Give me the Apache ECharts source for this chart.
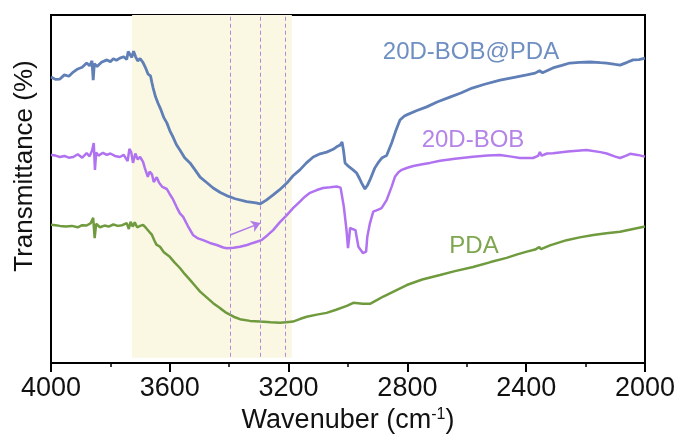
<!DOCTYPE html>
<html>
<head>
<meta charset="utf-8">
<title>FTIR spectra</title>
<script src="https://cdn.jsdelivr.net/npm/echarts@6/dist/echarts.min.js"></script>
<style>
  html, body { margin: 0; padding: 0; background: #fff; }
  #chart { width: 680px; height: 440px; }
</style>
</head>
<body>
<div id="chart"></div>
<script>
// FTIR transmittance (arbitrary offset units) vs wavenumber, cm-1

// 20D-BOB@PDA
const wnBobPda = [4000,3985,3970,3955,3940,3925,3910,3895,3880,3870,3862,3858,3854,3845,3830,3812,3800,3790,3780,3768,3755,3745,3740,3734,3728,3722,3715,3712,3708,3700,3690,3680,3673,3665,3660,3656,3648,3640,3630,3620,3610,3600,3589,3578,3566,3550,3532,3515,3498,3475,3454,3430,3409,3380,3341,3310,3296,3275,3252,3230,3206,3185,3162,3140,3117,3094,3072,3050,3035,3027,3020,3015,3010,2997,2983,2971,2960,2954,2943,2935,2926,2910,2899,2885,2870,2853,2840,2825,2810,2802,2770,2735,2700,2657,2620,2582,2540,2488,2440,2398,2370,2355,2345,2310,2280,2253,2220,2185,2150,2129,2100,2084,2060,2040,2020,2000];
const tBobPda = [82.2,81.5,81.6,82.8,82.4,83.6,84.5,85.0,86.2,85.4,86.8,81.3,86.0,85.2,86.4,87.1,86.6,87.4,87.0,87.6,88.0,87.2,89.5,89.9,87.8,89.6,88.0,88.5,86.8,87.5,86.3,84.5,83.0,82.5,80.5,79.0,76.5,74.7,72.8,70.5,69.0,66.8,64.9,62.8,61.2,59.0,57.5,55.5,53.4,51.8,50.3,49.0,48.1,47.2,46.4,46.0,45.7,46.8,48.3,49.8,51.7,53.8,55.5,57.5,59.2,60.1,60.6,61.4,62.3,62.6,63.5,61.0,57.5,56.4,55.5,54.6,52.8,51.7,50.0,51.0,52.6,56.0,57.5,59.0,59.6,63.2,66.5,69.8,71.0,71.3,72.5,73.6,75.0,76.4,77.6,79.0,80.1,81.3,82.1,82.8,83.3,84.0,83.4,84.8,85.5,86.2,86.4,86.5,86.3,86.2,85.8,85.6,86.4,87.1,87.2,87.6];

// 20D-BOB
const wnBob = [4000,3985,3970,3955,3940,3925,3910,3895,3880,3870,3862,3856,3852,3848,3840,3825,3812,3800,3785,3768,3755,3742,3736,3730,3724,3716,3708,3700,3690,3684,3678,3674,3668,3660,3654,3644,3636,3625,3610,3600,3589,3577,3566,3555,3540,3522,3505,3488,3465,3442,3420,3408,3385,3364,3340,3320,3305,3291,3270,3252,3230,3206,3185,3162,3145,3128,3105,3084,3060,3038,3025,3021,3014,3005,3000,2996,2993,2985,2975,2965,2950,2939,2935,2926,2915,2900,2887,2870,2853,2842,2830,2819,2800,2780,2750,2724,2690,2640,2579,2530,2488,2450,2421,2400,2377,2360,2354,2348,2330,2310,2260,2197,2150,2129,2100,2084,2065,2050,2025,2000];
const tBob = [59.8,59.6,59.2,59.5,59.0,59.2,60.0,59.0,60.3,59.4,61.0,63.2,55.5,60.5,59.6,60.4,59.8,60.2,59.5,59.2,59.8,58.0,61.5,60.6,57.5,60.2,58.5,59.2,57.8,56.0,56.3,53.5,55.0,54.2,52.0,53.4,51.8,50.6,50.0,48.5,47.0,44.8,43.0,42.0,39.5,36.8,35.8,35.3,34.5,33.9,33.2,33.0,33.1,33.4,33.9,34.5,34.9,35.3,36.8,38.2,40.4,42.5,44.5,46.4,47.8,48.9,49.7,50.3,50.5,50.7,50.4,50.0,44.9,38.2,33.0,36.0,38.8,38.5,38.2,33.4,31.6,32.0,36.3,40.2,43.5,44.0,44.5,46.8,50.7,53.5,54.8,55.5,56.1,56.6,57.1,57.5,58.1,58.7,59.3,59.6,59.8,59.3,58.9,58.9,58.9,59.5,60.6,59.6,60.2,60.3,60.8,61.2,60.6,60.2,59.3,58.9,59.5,60.1,59.8,59.3];

// PDA
const wnPda = [4000,3985,3970,3950,3930,3910,3895,3880,3866,3858,3853,3848,3835,3820,3806,3790,3775,3760,3745,3738,3732,3725,3718,3710,3700,3690,3680,3670,3660,3652,3645,3633,3620,3600,3585,3566,3550,3532,3515,3498,3475,3454,3430,3409,3385,3364,3330,3296,3260,3229,3200,3185,3160,3139,3105,3072,3040,3004,2982,2950,2926,2900,2881,2840,2802,2750,2690,2640,2579,2520,2466,2430,2398,2370,2356,2350,2320,2264,2220,2174,2130,2084,2040,2000];
const tPda = [39.7,39.6,39.4,39.2,39.4,39.0,39.6,39.5,40.2,41.7,35.9,40.0,39.0,39.5,39.2,39.8,39.4,39.6,40.2,38.5,40.6,39.2,40.4,39.0,39.4,39.7,38.8,37.8,36.8,35.2,34.0,33.4,31.8,30.5,29.0,27.3,25.6,23.9,22.2,20.5,18.8,17.2,15.7,14.4,13.3,12.6,12.1,11.9,11.7,11.6,11.8,11.9,12.7,13.3,13.9,14.4,15.3,16.4,17.3,17.0,17.0,18.2,19.1,20.8,22.4,24.0,25.3,26.4,27.6,29.0,30.2,31.2,32.0,32.6,33.3,32.7,33.8,35.3,36.1,36.8,37.3,37.7,38.5,39.2];

// Highlighted O–H / N–H stretching window and marker positions (cm-1)
const bandRange = [3727, 3189];
const markerLines = [3397, 3294, 3212];
const shiftArrow = [[3397, 36.8], [3295, 40.2]];

const xTicks = { min: 2000, max: 4000, interval: 400 };

const seriesNames = ['20D-BOB@PDA', '20D-BOB', 'PDA'];
const colBlue = '#5f7fb6';
const colPurple = '#b072f0';
const colGreen = '#6f9a3d';

const pairs = (xs, ys) => xs.map((x, i) => [x, ys[i]]);
const FONT = '"Liberation Sans", Arial, Helvetica, sans-serif';

const chart = echarts.init(document.getElementById('chart'), null, { renderer: 'canvas' });

chart.setOption({
  animation: false,
  backgroundColor: '#ffffff',
  grid: {
    left: 51, right: 35, top: 15, bottom: 77,
    show: true, borderColor: '#000', borderWidth: 2, backgroundColor: 'transparent'
  },
  xAxis: {
    type: 'value',
    min: xTicks.min, max: xTicks.max, interval: xTicks.interval,
    inverse: true,
    axisLine: { lineStyle: { color: '#000', width: 2 } },
    axisTick: { show: true, inside: false, length: 9, lineStyle: { color: '#000', width: 2 } },
    minorTick: { show: true, splitNumber: 2, length: 4, lineStyle: { color: '#000', width: 1.5 } },
    splitLine: { show: false },
    axisLabel: { fontFamily: FONT, fontSize: 27, color: '#111', margin: 12, formatter: v => String(v) },
    name: 'Wavenuber (cm{sup|-1})',
    nameLocation: 'middle',
    nameGap: 36,
    nameTextStyle: {
      fontFamily: FONT, fontSize: 27, color: '#111',
      rich: { sup: { fontFamily: FONT, fontSize: 16, color: '#111', verticalAlign: 'top', padding: [0, 0, 12, 0] } }
    }
  },
  yAxis: {
    type: 'value', min: 0, max: 100,
    axisLine: { show: true, lineStyle: { color: '#000', width: 2 } },
    axisTick: { show: false },
    axisLabel: { show: false },
    splitLine: { show: false }
  },
  series: [
    {
      name: seriesNames[2], type: 'line', data: pairs(wnPda, tPda),
      showSymbol: false, z: 3,
      lineStyle: { color: colGreen, width: 2.5 },
      markArea: {
        silent: true,
        itemStyle: { color: '#faf8e2' },
        data: [[{ xAxis: bandRange[0], yAxis: 100 }, { xAxis: bandRange[1], yAxis: 1.5 }]]
      },
      markLine: {
        silent: true, symbol: 'none', animation: false,
        label: { show: false },
        lineStyle: { color: '#b08ad8', width: 1, type: [4, 3] },
        data: markerLines.map(w => [{ coord: [w, 99.5] }, { coord: [w, 1.5] }])
      }
    },
    {
      name: seriesNames[1], type: 'line', data: pairs(wnBob, tBob),
      showSymbol: false, z: 4,
      lineStyle: { color: colPurple, width: 2.5 },
      markLine: {
        silent: true, symbol: ['none', 'arrow'], symbolSize: 9, animation: false,
        label: { show: false },
        lineStyle: { color: '#b07ae8', width: 1.5, type: 'solid' },
        data: [[{ coord: shiftArrow[0] }, { coord: shiftArrow[1] }]]
      }
    },
    {
      name: seriesNames[0], type: 'line', data: pairs(wnBobPda, tBobPda),
      showSymbol: false, z: 5,
      lineStyle: { color: colBlue, width: 2.8 }
    }
  ],
  graphic: [
    {
      type: 'text', x: 25, y: 166, rotation: Math.PI / 2,
      style: { text: 'Transmittance (%)', fontFamily: FONT, fontSize: 26, fill: '#111', align: 'center', verticalAlign: 'middle' }
    },
    {
      type: 'text', x: 471, y: 52,
      style: { text: seriesNames[0], fontFamily: FONT, fontSize: 24, fill: '#6f8fc2', align: 'center', verticalAlign: 'middle' }
    },
    {
      type: 'text', x: 473, y: 140,
      style: { text: seriesNames[1], fontFamily: FONT, fontSize: 24, fill: '#b584e8', align: 'center', verticalAlign: 'middle' }
    },
    {
      type: 'text', x: 474, y: 246,
      style: { text: seriesNames[2], fontFamily: FONT, fontSize: 24, fill: '#7ea64f', align: 'center', verticalAlign: 'middle' }
    }
  ]
});
</script>
</body>
</html>
